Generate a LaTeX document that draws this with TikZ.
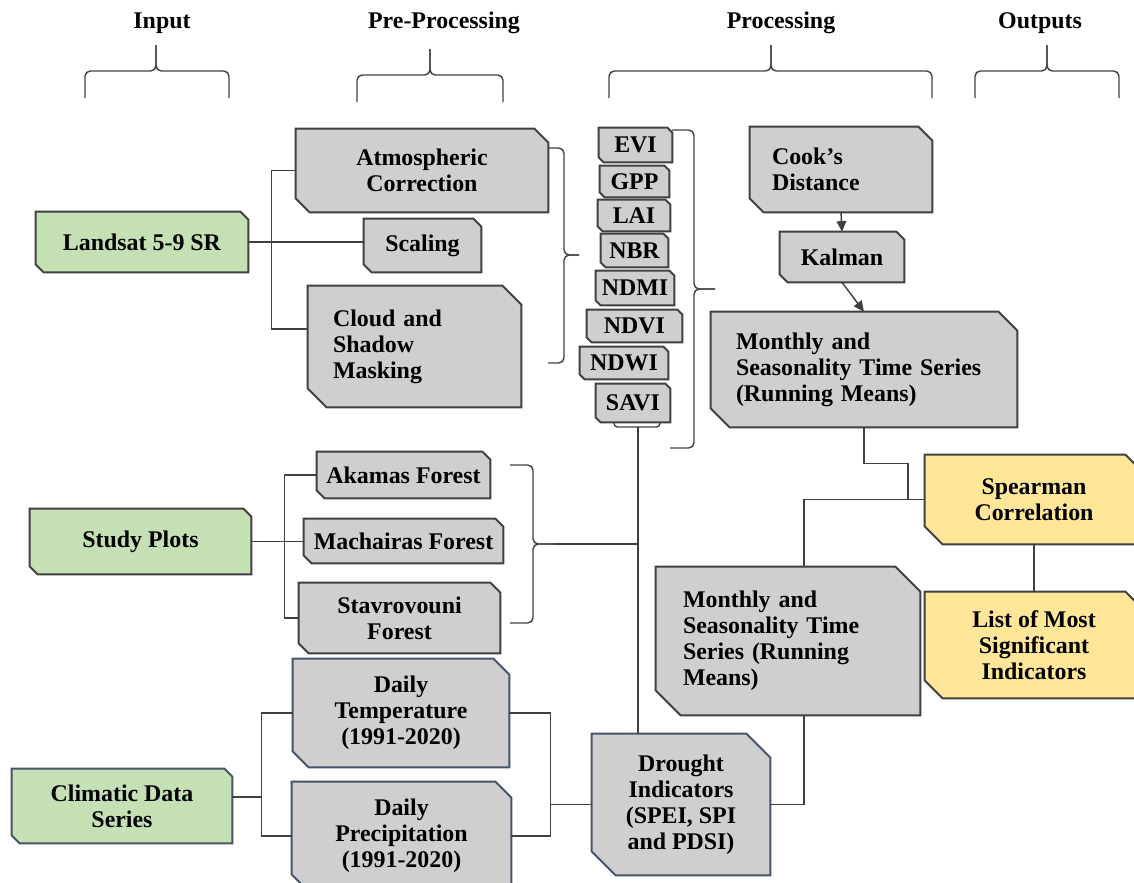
\documentclass[tikz,border=0pt]{standalone}
\usepackage{fontspec}
\setmainfont{Liberation Serif}
\usetikzlibrary{arrows.meta,backgrounds}

\definecolor{boxgray}{HTML}{D0CECE}
\definecolor{boxgreen}{HTML}{C5E0B4}
\definecolor{boxyellow}{HTML}{FFE699}
\definecolor{edgegray}{HTML}{404040}
\definecolor{edgeblue}{HTML}{44546A}

% box outline with cut top-right and bottom-left corners
\newcommand\chamf[2]{%
  (#1.north west) -- ([xshift=-#2]#1.north east) -- ([yshift=-#2]#1.north east)
  -- (#1.south east) -- ([xshift=#2]#1.south west) -- ([yshift=#2]#1.south west) -- cycle}

\tikzset{
  box/.style 2 args={rectangle, inner sep=0pt, align=center,
    minimum width=#1cm, minimum height=#2cm},
  lbox/.style n args={3}{box={#1}{#2}, align=left, text width=#3cm},
  conn/.style={draw=edgegray, line width=0.8pt},
  brc/.style={draw=edgegray, line width=0.8pt, rounded corners=3pt},
  arr/.style={conn, -{Triangle[length=6pt,width=5.5pt]}},
}

\begin{document}
\begin{tikzpicture}[x=0.02cm, y=-0.02cm,
    font=\bfseries\fontsize{13.6}{14.8}\selectfont]
    \useasboundingbox (0,0) rectangle (1134,883);

    % column titles
    \node (hin)  at (162,23)  {Input};
    \node (hpre) at (444,23)  {Pre-Processing};
    \node (hpro) at (781,23)  {Processing};
    \node (hout) at (1040,23) {Outputs};

    \foreach \a/\m/\b/\y in {85/156/229/0, 357/430/503/4, 609/771/932/0, 975/1047/1119/0} {
        \draw[brc] (\a,98+\y) -- (\a,71+\y) -- (\m,71+\y) -- (\m,45+\y);
        \draw[brc] (\b,98+\y) -- (\b,71+\y) -- (\m,71+\y) -- (\m,45+\y);
    }

    % inputs
    \node[box={4.24}{1.2}]  (land)  at (142,242)   {Landsat 5-9 SR};
    \node[box={4.42}{1.3}]  (plots) at (140.5,541.5) {Study Plots};
    \node[box={4.4}{1.48}]  (clim)  at (122,806)   {Climatic Data\\Series};

    % pre-processing
    \node[box={5.04}{1.66}] (atm)   at (422,170.5) {Atmospheric\\Correction};
    \node[box={2.34}{1.06}] (scal)  at (422.5,245.5) {Scaling};
    \node[lbox={4.26}{2.42}{3.26}] (cloud) at (414.5,346.5) {Cloud and\\Shadow\\Masking};

    \node[box={3.46}{0.92}] (aka)   at (403.5,475) {Akamas Forest};
    \node[box={3.98}{0.88}] (mach)  at (403.5,541) {Machairas Forest};
    \node[box={4.02}{1.4}]  (stav)  at (399.5,618) {Stavrovouni\\Forest};

    \node[box={4.32}{2.16}] (temp)  at (401,713)   {Daily\\Temperature\\(1991-2020)};
    \node[box={4.38}{2.16}] (prec)  at (401.5,836) {Daily\\Precipitation\\(1991-2020)};

    % indices
    \node[box={1.46}{0.68}] (evi)  at (635.5,145) {EVI};
    \node[box={1.38}{0.62}] (gpp)  at (634.5,181.5) {GPP};
    \node[box={1.44}{0.62}] (lai)  at (634,215.5) {LAI};
    \node[box={1.34}{0.66}] (nbr)  at (634.5,250.5) {NBR};
    \node[box={1.56}{0.68}] (ndmi) at (635,288) {NDMI};
    \node[box={1.9}{0.64}]  (ndvi) at (634.5,326) {NDVI};
    \node[box={1.76}{0.64}] (ndwi) at (624,363) {NDWI};
    \node[box={1.48}{0.76}] (savi) at (633,403) {SAVI};

    % processing
    \node[lbox={3.64}{1.7}{2.76}]  (cook) at (841,169.5) {Cook’s\\Distance};
    \node[box={2.48}{1.0}]         (kal)  at (842,257)   {Kalman};
    \node[lbox={6.12}{2.3}{5.12}]  (mts)  at (864,369.5) {Monthly and\\Seasonality Time Series\\(Running Means)};
    \node[lbox={5.28}{2.96}{4.2}]  (mbt)  at (788,641)   {Monthly and\\Seasonality Time\\Series (Running\\Means)};
    \node[box={3.56}{2.82}]        (drought) at (681,804.5) {Drought\\Indicators\\(SPEI, SPI\\and PDSI)};

    % outputs
    \node[box={4.36}{1.78}] (spear) at (1034,499.5) {Spearman\\Correlation};
    \node[box={4.36}{2.12}] (list)  at (1034,645)   {List of Most\\Significant\\Indicators};

    \begin{scope}[on background layer]
        \clip (0,0) rectangle (1134,883);
        \foreach \n/\k/\f/\d in {land/0.16cm/boxgreen/edgegray, plots/0.16cm/boxgreen/edgegray,
            clim/0.16cm/boxgreen/edgeblue, atm/0.28cm/boxgray/edgegray, scal/0.16cm/boxgray/edgegray,
            cloud/0.38cm/boxgray/edgegray, aka/0.16cm/boxgray/edgegray, mach/0.16cm/boxgray/edgegray,
            stav/0.2cm/boxgray/edgegray, temp/0.32cm/boxgray/edgeblue, prec/0.32cm/boxgray/edgeblue,
            evi/0.1cm/boxgray/edgegray, gpp/0.1cm/boxgray/edgegray, lai/0.1cm/boxgray/edgegray,
            nbr/0.1cm/boxgray/edgegray, ndmi/0.1cm/boxgray/edgegray, ndvi/0.1cm/boxgray/edgegray,
            ndwi/0.1cm/boxgray/edgegray, savi/0.1cm/boxgray/edgegray, cook/0.28cm/boxgray/edgegray,
            kal/0.16cm/boxgray/edgegray, mts/0.38cm/boxgray/edgegray, mbt/0.5cm/boxgray/edgegray,
            drought/0.48cm/boxgray/edgeblue, spear/0.36cm/boxyellow/edgegray, list/0.36cm/boxyellow/edgegray}
            \path[fill=\f, draw=\d, line width=1.1pt] \chamf{\n}{\k};
    \end{scope}

    % landsat branch
    \draw[conn] (land.east) -- (land.east -| scal.west);
    \draw[conn] (atm.west) -- ++(-24,0) |- ([yshift=0.35cm]cloud.west);
    \draw[brc] (548,148) -- (564,148) -- (564,255) -- (579,255);
    \draw[brc] (548,363) -- (564,363) -- (564,255) -- (579,255);

    % index brace and link down
    \draw[brc] (672,130) -- (694,130) -- (694,289) -- (715,289);
    \draw[brc] (670,448) -- (694,448) -- (694,289) -- (715,289);
    \draw[brc, rounded corners=2pt] (614,422) -- (614,427) -- (660,427) -- (660,422);
    \coordinate (sv) at (638,427);
    \draw[conn] (sv) -- (sv |- drought.north);

    % study plots branch
    \draw[conn] (plots.east) -- (plots.east -| mach.west);
    \draw[conn] (aka.west) -- ++(-32,0) |- (stav.west);
    \draw[brc] (510,465) -- (533,465) -- (533,544) -- (554,544);
    \draw[brc] (510,623) -- (533,623) -- (533,544) -- (554,544);
    \coordinate (stip) at (554,544);
    \draw[conn] (stip) -- (stip -| sv);

    % climatic branch
    \draw[conn] ([yshift=0.18cm]clim.east) -- ++(30,0);
    \draw[conn] (temp.west) -- ++(-31,0) |- (prec.west);
    \draw[conn] (temp.east) -- ++(41,0) |- (prec.east);
    \draw[conn] (drought.west) -- ++(-42,0);

    % processing chain
    \draw[arr] (cook.south) -- (kal.north);
    \draw[arr] (kal.south) -- (mts.north);
    \draw[conn] (mts.south) |- ++(44,36) |- (spear.west);
    \draw[conn] ([xshift=0.32cm]mbt.north) |- (spear.west);
    \draw[conn] ([xshift=0.32cm]mbt.south) |- (drought.east);
    \draw[conn] (spear.south) -- (list.north);

\end{tikzpicture}
\end{document}
